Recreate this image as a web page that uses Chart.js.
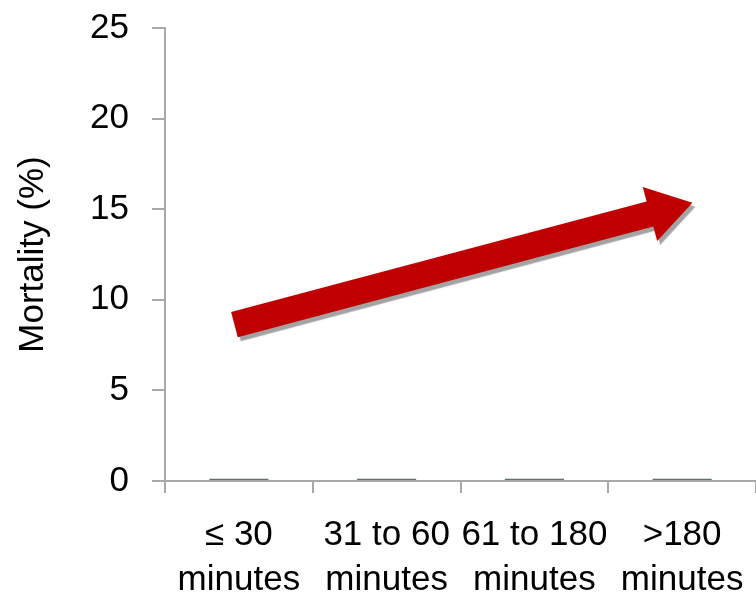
<!DOCTYPE html>
<html>
<head>
<meta charset="utf-8">
<script src="https://cdn.jsdelivr.net/npm/chart.js@4/dist/chart.umd.min.js"></script>
<style>
  html, body { margin: 0; padding: 0; background: #ffffff; }
  canvas { display: block; }
</style>
</head>
<body>
<canvas id="chart" width="756" height="599"></canvas>
<script>
// Time-to-treatment groups (two-line axis labels)
const categories = [
  ['≤ 30', 'minutes'],
  ['31 to 60', 'minutes'],
  ['61 to 180', 'minutes'],
  ['>180', 'minutes']
];
// Placeholder bars sitting on the baseline
const mortality = [0.12, 0.12, 0.12, 0.12];
// Y axis ticks (%)
const yTicks = [0, 5, 10, 15, 20, 25];
// Trend arrow: start and end, in category index / mortality %
const trendX = [-0.03, 3.07];
const trendY = [8.63, 15.36];

const AXIS_GREY = '#a8a8a8';

Chart.defaults.font.family = "'Liberation Sans', Arial, sans-serif";

// Draws the upward trend arrow with a soft drop shadow
const trendArrow = {
  id: 'trendArrow',
  afterDatasetsDraw(chart) {
    const { ctx, scales: { x, y } } = chart;
    const x0 = x.getPixelForValue(trendX[0]);
    const y0 = y.getPixelForValue(trendY[0]);
    const x1 = x.getPixelForValue(trendX[1]);
    const y1 = y.getPixelForValue(trendY[1]);
    const ang = Math.atan2(y1 - y0, x1 - x0);
    const len = Math.hypot(x1 - x0, y1 - y0);
    const shaft = 13, head = 28, headLen = 44;
    ctx.save();
    ctx.translate(x0, y0);
    ctx.rotate(ang);
    ctx.beginPath();
    ctx.moveTo(0, -shaft);
    ctx.lineTo(len - headLen, -shaft);
    ctx.lineTo(len - headLen, -head);
    ctx.lineTo(len, 0);
    ctx.lineTo(len - headLen, head);
    ctx.lineTo(len - headLen, shaft);
    ctx.lineTo(0, shaft);
    ctx.closePath();
    ctx.shadowColor = 'rgba(140,140,140,0.8)';
    ctx.shadowOffsetX = 3;
    ctx.shadowOffsetY = 4;
    ctx.shadowBlur = 1;
    ctx.fillStyle = '#c00000';
    ctx.fill();
    ctx.restore();
  }
};

new Chart(document.getElementById('chart'), {
  type: 'bar',
  data: {
    labels: categories,
    datasets: [{
      data: mortality,
      backgroundColor: '#5f7272',
      borderWidth: 0,
      barPercentage: 0.4,
      categoryPercentage: 1
    }]
  },
  options: {
    responsive: false,
    devicePixelRatio: 1,
    animation: false,
    layout: { padding: { top: 28, left: 0, right: 0, bottom: 0 } },
    plugins: { legend: { display: false }, tooltip: { enabled: false } },
    scales: {
      x: {
        border: { display: true, color: AXIS_GREY, width: 2 },
        grid: { offset: true, drawOnChartArea: false, drawTicks: true, tickLength: 12, color: AXIS_GREY, lineWidth: 2 },
        ticks: { color: '#000', font: { size: 35, lineHeight: 1.28 }, padding: 20, maxRotation: 0, autoSkip: false },
        afterFit: s => { s.height = 118; s.paddingLeft = 0; s.paddingRight = 0; }
      },
      y: {
        min: 0,
        max: 25,
        afterBuildTicks: s => { s.ticks = yTicks.map(v => ({ value: v })); },
        border: { display: true, color: AXIS_GREY, width: 2 },
        grid: { drawOnChartArea: false, drawTicks: true, tickLength: 13, color: AXIS_GREY, lineWidth: 2 },
        ticks: { color: '#000', font: { size: 35 }, padding: 23 },
        title: { display: true, text: 'Mortality (%)', color: '#000', font: { size: 35 }, padding: { top: 12, bottom: 0 } },
        afterFit: s => { s.width = 165; s.paddingTop = 0; s.paddingBottom = 0; }
      }
    }
  },
  plugins: [trendArrow]
});
</script>
</body>
</html>
